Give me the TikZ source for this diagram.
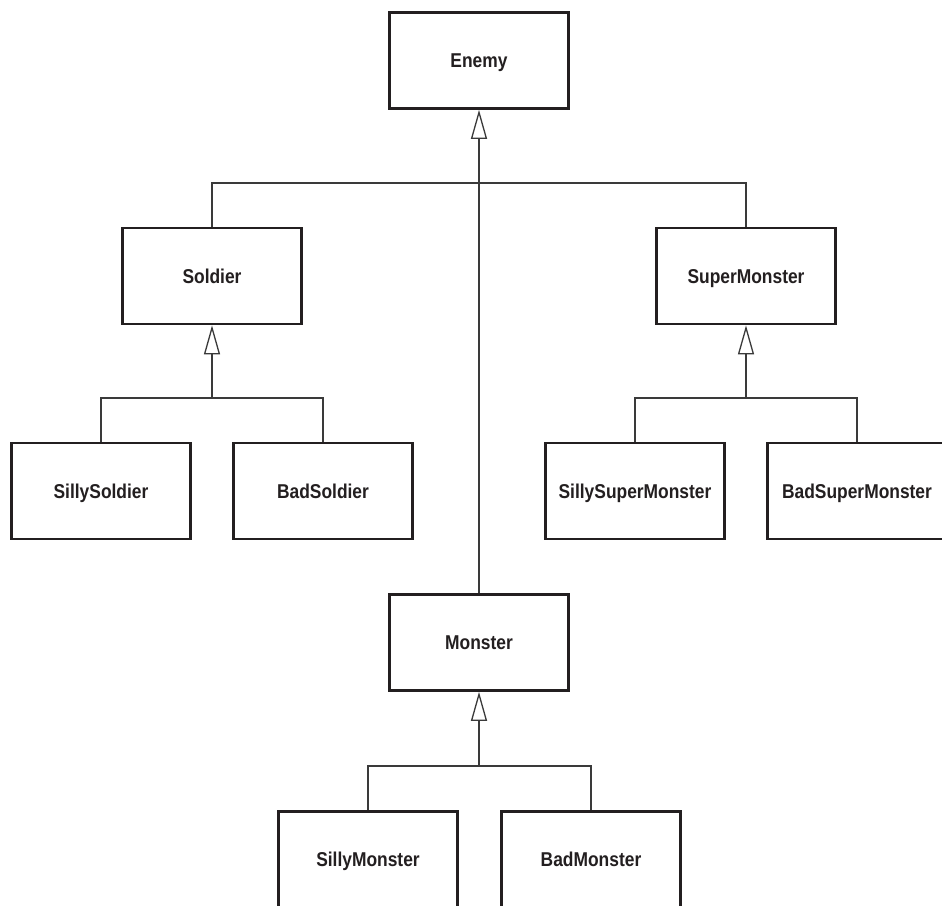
\documentclass[tikz,border=0pt]{standalone}
\usepackage{fontspec}
\newfontfamily\classfont{Liberation Sans}[FakeStretch=0.87]
\usetikzlibrary{arrows.meta}
\definecolor{ink}{HTML}{231F20}
\definecolor{wire}{HTML}{3A3A3A}
\tikzset{
  classbox/.style={draw=ink, line width=2.7pt, fill=white, text=ink,
    minimum width=179pt, minimum height=96pt, inner sep=0pt,
    text height=14.3pt, text depth=0pt,
    font=\classfont\bfseries\fontsize{20pt}{22pt}\selectfont},
  wireline/.style={draw=wire, line width=1.3pt},
  inherits/.style={wireline, -{Triangle[open, length=29pt, width=16pt, fill=white]}}
}
\begin{document}
\begin{tikzpicture}[x=1pt, y=-1pt]
\useasboundingbox (0,0) rectangle (942,905);
\clip (0,0) rectangle (942,905);
% classes
\node[classbox] (enemy)   at (479,60.5) {Enemy};
\node[classbox] (soldier) at (212,276) {Soldier};
\node[classbox] (super)   at (746,276) {SuperMonster};
\node[classbox] (sillysoldier) at (101,491) {SillySoldier};
\node[classbox] (badsoldier)   at (323,491) {BadSoldier};
\node[classbox] (sillysuper)   at (635,491) {SillySuperMonster};
\node[classbox] (badsuper)     at (857,491) {BadSuperMonster};
\node[classbox] (monster) at (479,642.5) {Monster};
\node[classbox] (sillymonster) at (368,859.5) {SillyMonster};
\node[classbox] (badmonster)   at (591,859.5) {BadMonster};
% junction points of the inheritance trees
\coordinate (jenemy)   at (479,183);
\coordinate (jsoldier) at (212,398);
\coordinate (jsuper)   at (746,398);
\coordinate (jmonster) at (479,766);
% Enemy subclasses
\draw[wireline] (soldier.north) |- (jenemy) -| (super.north);
\draw[inherits] (monster.north) -- (enemy.south);
% Soldier subclasses
\draw[wireline] (sillysoldier.north) |- (jsoldier) -| (badsoldier.north);
\draw[inherits] (jsoldier) -- (soldier.south);
% SuperMonster subclasses
\draw[wireline] (sillysuper.north) |- (jsuper) -| (badsuper.north);
\draw[inherits] (jsuper) -- (super.south);
% Monster subclasses
\draw[wireline] (sillymonster.north) |- (jmonster) -| (badmonster.north);
\draw[inherits] (jmonster) -- (monster.south);
\end{tikzpicture}
\end{document}
